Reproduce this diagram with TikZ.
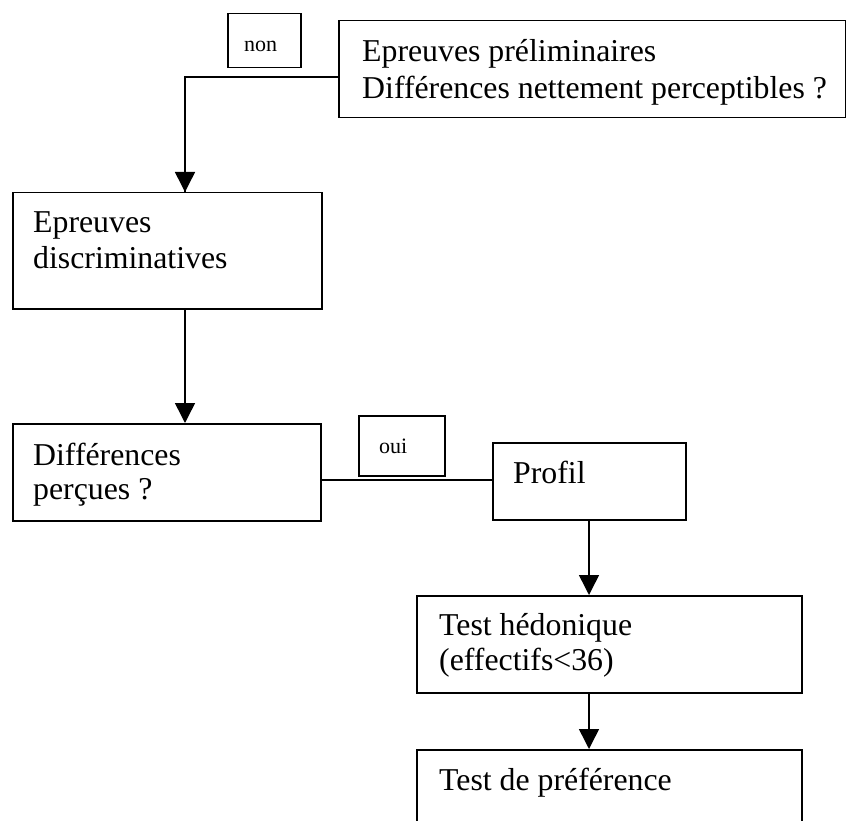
\documentclass[tikz,border=0pt]{standalone}
\usepackage{fontspec}
\setmainfont{Liberation Serif}
\usetikzlibrary{arrows.meta,calc}
\begin{document}
\begin{tikzpicture}[x=1pt,y=-1pt,
  box/.style={draw, line width=1.5pt, inner sep=0pt, anchor=north west},
  big/.style={font=\fontsize{31.8}{35}\selectfont, inner sep=0pt, anchor=base west},
  small/.style={font=\fontsize{22}{25}\selectfont, inner sep=0pt, anchor=base west},
  conn/.style={line width=1.5pt},
  arr/.style={line width=1.5pt, -{Triangle[width=20pt,length=20pt]}}]
\path[use as bounding box] (0,0) rectangle (846,821);
\clip (0,0) rectangle (846,821);
% boxes
\node[box, minimum width=507pt, minimum height=97pt] (b0) at (338,20) {};
\node[box, minimum width=73pt, minimum height=54pt] (non) at (227,13) {};
\node[box, minimum width=309pt, minimum height=116pt] (b1) at (12,192) {};
\node[box, minimum width=308pt, minimum height=97pt] (b2) at (12,423) {};
\node[box, minimum width=86pt, minimum height=60pt] (oui) at (358,415) {};
\node[box, minimum width=193pt, minimum height=77pt] (b3) at (492,442) {};
\node[box, minimum width=385pt, minimum height=97pt] (b4) at (416,595) {};
\node[box, minimum width=385pt, minimum height=100pt] (b5) at (416,749) {};
% texts
\node[big] (t0a) at (362,62) {Epreuves préliminaires};
\node[big] (t0b) at (362,99) {Différences nettement perceptibles ?};
\node[small] (tnon) at (244,52) {non};
\node[big] (t1a) at (33,233) {Epreuves};
\node[big] (t1b) at (33,269) {discriminatives};
\node[big] (t2a) at (33,465) {Différences};
\node[big] (t2b) at (33,499) {perçues ?};
\node[small] (toui) at (379,453) {oui};
\node[big] (t3) at (513,483) {Profil};
\node[big] (t4a) at (439,635) {Test hédonique};
\node[big] (t4b) at (439,670) {(effectifs<36)};
\node[big] (t5) at (439,790) {Test de préférence};
% connectors
\coordinate (c0) at (185,77);
\coordinate (c1) at (400,480);
\coordinate (c2) at (589,0);
\draw[conn] (b0.west |- c0) -- (c0) -- (c0 |- b1.north);
\draw[arr] (c0 |- b1.north) ++(0,-20) -- (c0 |- b1.north);
\draw[arr] (c0 |- b1.south) -- (c0 |- b2.north);
\draw[conn] (b2.east |- c1) -- (b3.west |- c1);
\draw[arr] (c2 |- b3.south) -- (c2 |- b4.north);
\draw[arr] (c2 |- b4.south) -- (c2 |- b5.north);
\end{tikzpicture}
\end{document}
